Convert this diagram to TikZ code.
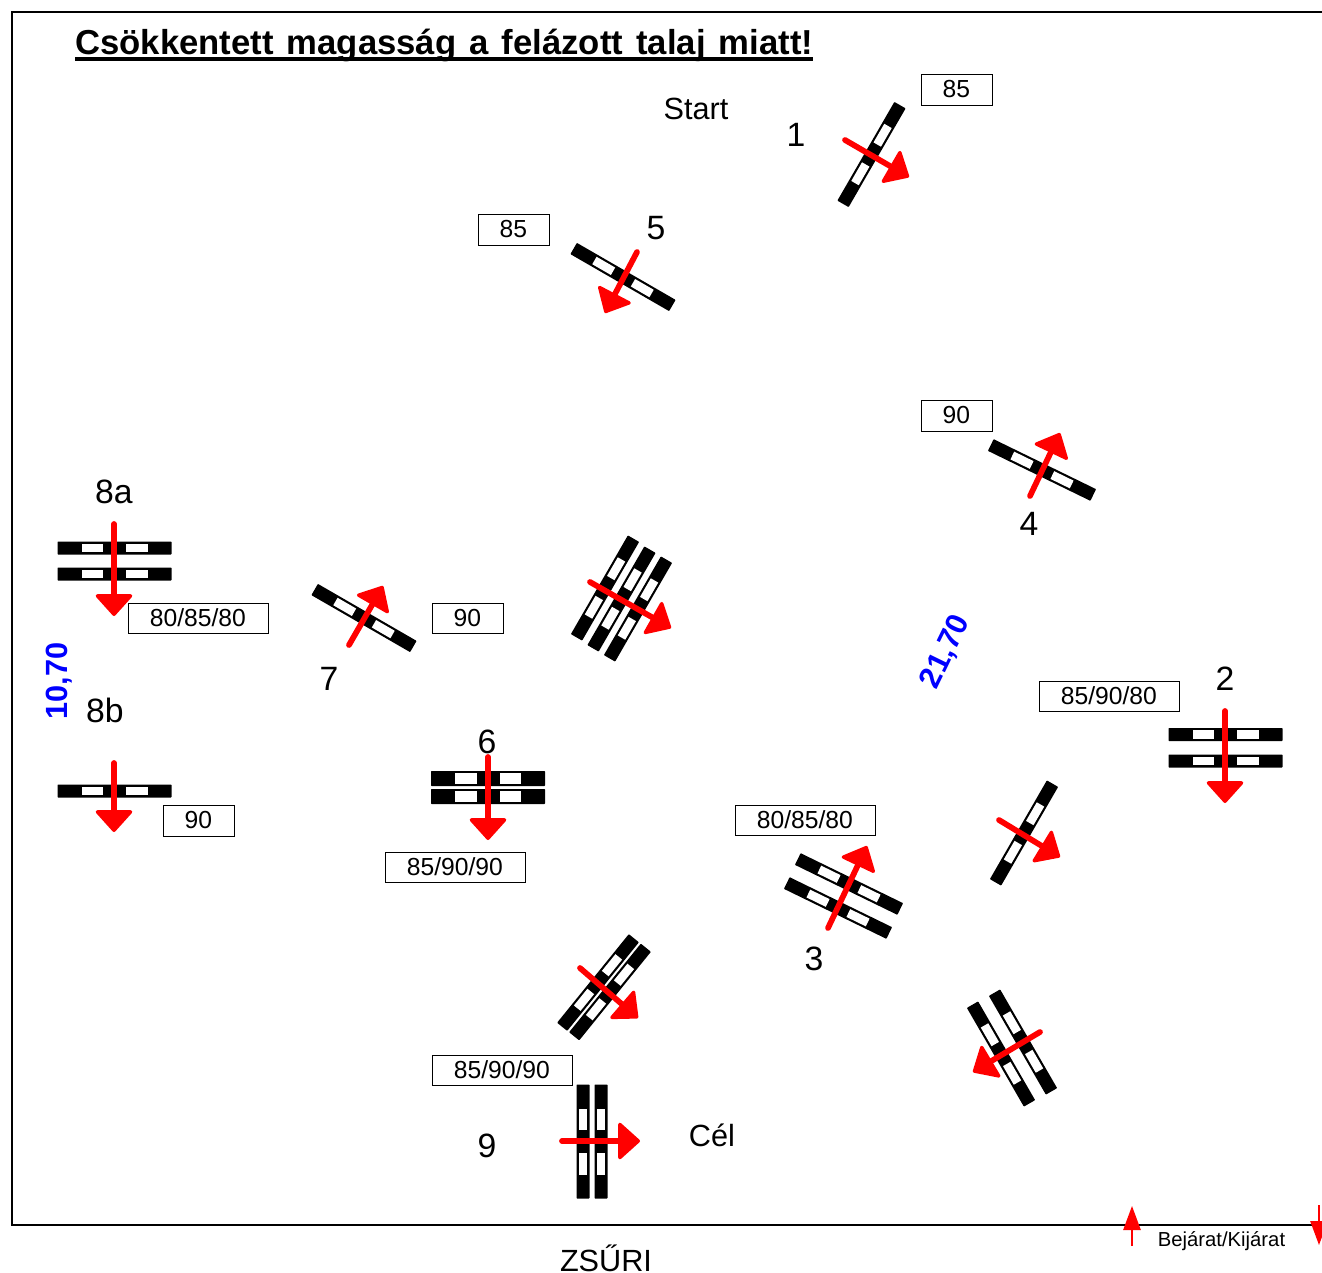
\documentclass[tikz,border=0pt]{standalone}
\usepackage{fontspec}
\setmainfont{Liberation Sans}
\usetikzlibrary{arrows.meta}
\newcommand{\poleat}[4]{%
  \begin{scope}[shift={(#1,#2)},rotate=#3]
    \fill[black,rounded corners=0.5pt] (-57,-#4/2) rectangle (57,#4/2);
    \fill[white] (-33,-#4/2+2.2) rectangle (-11.5,#4/2-2.2);
    \fill[white] (11.5,-#4/2+2.2) rectangle (33,#4/2-2.2);
  \end{scope}}
\tikzset{
  redflow/.style={draw=red,line width=4.3pt,line cap=round,
    -{Triangle[length=17pt,width=30pt,round,line width=2.5pt,fill=red,color=red]}},
  valuebox/.style={draw=black,line width=0.6pt,fill=white,inner sep=0pt,font=\fontsize{18.5}{20}\selectfont,anchor=north west},
  bignum/.style={font=\fontsize{25.3}{28}\selectfont,inner sep=0pt},
  midtext/.style={font=\fontsize{23}{26}\selectfont,inner sep=0pt},
  bluetext/.style={font=\fontsize{23}{25}\selectfont\bfseries,text=blue,inner sep=0pt},
  entry/.style={draw=red,line width=1.2pt,-{Triangle[length=18pt,width=13pt,fill=red,color=red]}}
}
\begin{document}
\begin{tikzpicture}[x=0.75pt,y=-0.75pt]
\useasboundingbox (0,0) rectangle (1322,1272);
\clip (0,0) rectangle (1322,1272);
% frame
\coordinate (ftr) at (1322,12);
\coordinate (ftl) at (12,12);
\coordinate (fbl) at (12,1225);
\coordinate (fbr) at (1322,1225);
\draw[black,line width=1.2pt] (ftr) -- (ftl) -- (fbl) -- (fbr);
% title
\node[font=\fontsize{26}{30}\selectfont\bfseries,inner sep=0pt,anchor=base west] (title) at (75,54) {\makebox[553.5pt][s]{Csökkentett magasság a felázott talaj miatt!}};
\coordinate (ula) at (75,58.7);
\coordinate (ulb) at (813,58.7);
\draw[black,line width=2.7pt] (ula) -- (ulb);
% poles
\poleat{871.5}{154.5}{60}{13}
\poleat{623}{277}{-30}{13}
\poleat{1042}{470}{-26}{13}
\poleat{364}{618}{-30}{13}
\poleat{605}{588}{60}{13}
\poleat{621.5}{599}{60}{13}
\poleat{638}{609}{60}{13}
\poleat{114.5}{548}{0}{13}
\poleat{114.5}{574}{0}{13}
\poleat{114.5}{791}{0}{13}
\poleat{488}{778.5}{0}{15}
\poleat{488}{796.5}{0}{15}
\poleat{1225.5}{734.5}{0}{13}
\poleat{1225.5}{761}{0}{13}
\poleat{1024}{833}{60}{13}
\poleat{849}{884}{-26}{13}
\poleat{838}{908}{-26}{13}
\poleat{598}{982.5}{51}{13}
\poleat{610}{992}{51}{13}
\poleat{1023}{1042}{-60}{13}
\poleat{1001}{1054}{-60}{13}
\poleat{583}{1141.5}{90}{13}
\poleat{601}{1141.5}{90}{13}
% arrows
\draw[redflow] (845,140) -- (909,177);
\draw[redflow] (637,252) -- (605,313);
\draw[redflow] (1030,496) -- (1060,433);
\draw[redflow] (349,645) -- (383,586);
\draw[redflow] (590,582) -- (671,628);
\draw[redflow] (114,524) -- (114,616);
\draw[redflow] (114,763) -- (114,832);
\draw[redflow] (488,757) -- (488,840);
\draw[redflow] (1225,711) -- (1225,803);
\draw[redflow] (999,820) -- (1060,857);
\draw[redflow] (828,928) -- (867,846);
\draw[redflow] (580,968) -- (638,1018);
\draw[redflow] (1040,1032) -- (973,1072);
\draw[redflow] (562,1141) -- (640,1141);
% boxes
\node[valuebox,minimum width=53.25pt,minimum height=23.25pt] (b1) at (920.5,73.5) {85};
\node[valuebox,minimum width=53.25pt,minimum height=23.25pt] (b5) at (477.5,213.5) {85};
\node[valuebox,minimum width=53.25pt,minimum height=23.25pt] (b4) at (920.5,399.5) {90};
\node[valuebox,minimum width=105pt,minimum height=22.5pt] (b8a) at (127.5,602.5) {80/85/80};
\node[valuebox,minimum width=53.25pt,minimum height=22.5pt] (b7) at (431.5,602.5) {90};
\node[valuebox,minimum width=105pt,minimum height=22.5pt] (b2) at (1038.5,680.5) {85/90/80};
\node[valuebox,minimum width=105pt,minimum height=22.5pt] (b3) at (734.5,804.5) {80/85/80};
\node[valuebox,minimum width=53.25pt,minimum height=23.25pt] (b8b) at (162.5,804.5) {90};
\node[valuebox,minimum width=105pt,minimum height=22.5pt] (b6) at (384.5,851.5) {85/90/90};
\node[valuebox,minimum width=105pt,minimum height=22.5pt] (b9) at (431.5,1054.5) {85/90/90};
% labels
\node[midtext] (start) at (696,109) {Start};
\node[midtext] (cel) at (712,1135) {Cél};
\node[midtext] (zsuri) at (606,1258) {ZSŰRI};
\node[bignum] (n1) at (796,135) {1};
\node[bignum] (n5) at (656,228) {5};
\node[bignum] (n4) at (1029,524) {4};
\node[bignum] (n8a) at (114,492) {8a};
\node[bignum] (n7) at (329,679) {7};
\node[bignum] (n8b) at (105,710) {8b};
\node[bignum] (n6) at (487,742) {6};
\node[bignum] (n2) at (1225,679) {2};
\node[bignum] (n3) at (814,959) {3};
\node[bignum] (n9) at (487,1146) {9};
\node[bluetext,rotate=90] (w) at (59,681) {10,70};
\node[bluetext,rotate=64] (l) at (946,652) {21,70};
% entrance
\node[font=\fontsize{15.2}{17}\selectfont,inner sep=0pt] (bk) at (1221.5,1241) {Bejárat/Kijárat};
\coordinate (e1a) at (1132,1246);
\coordinate (e1b) at (1132,1206);
\coordinate (e2a) at (1319,1205);
\coordinate (e2b) at (1319,1245);
\draw[entry] (e1a) -- (e1b);
\draw[entry] (e2a) -- (e2b);
\end{tikzpicture}
\end{document}
